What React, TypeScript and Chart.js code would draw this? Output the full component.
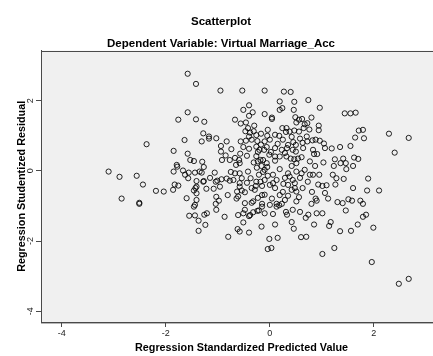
import { useEffect, useRef } from "react";
import { Chart, registerables } from "chart.js";

Chart.register(...registerables);

const chartTitle = "Scatterplot";
const chartSubtitle = "Dependent Variable: Virtual Marriage_Acc";
const xAxisTitle = "Regression Standardized Predicted Value";
const yAxisTitle = "Regression Studentized Residual";
const xTicks = [-4, -2, 0, 2];
const yTicks = [-4, -2, 0, 2];

// [standardized predicted value, studentized residual]
const upperLeft: [number, number][] = [
  [-1.58, 2.77], [-1.42, 2.48], [-0.95, 2.29], [-0.53, 2.29], [-0.40, 1.87], [-0.51, 1.74], [-0.33, 1.67], [-0.40, 1.57],
  [-1.58, 1.67], [-1.76, 1.46], [-1.42, 1.47], [-1.26, 1.40], [-0.67, 1.46], [-0.56, 1.35], [-0.46, 1.38], [-0.30, 1.29],
  [-0.42, 1.22], [-0.47, 1.13], [-0.38, 1.09], [-0.31, 1.13], [-0.26, 1.02], [-0.17, 1.06], [-0.40, 0.98], [-1.28, 1.07],
  [-1.17, 0.98], [-1.17, 0.92], [-1.03, 0.93], [-1.64, 0.88], [-1.31, 0.84], [-0.83, 0.84], [-0.56, 0.84], [-0.46, 0.86],
  [-0.24, 0.85], [-0.17, 0.75], [-2.37, 0.76], [-1.85, 0.57], [-1.58, 0.49], [-0.94, 0.71], [-0.74, 0.62], [-0.94, 0.55],
  [-0.85, 0.44], [-0.51, 0.68], [-0.40, 0.63], [-0.26, 0.69], [-0.20, 0.60], [-0.57, 0.49], [-0.26, 0.42], [-1.53, 0.31],
  [-1.46, 0.28], [-1.30, 0.26], [-0.92, 0.31], [-0.59, 0.31], [-0.18, 0.31], [-0.31, 0.24], [-1.79, 0.17], [-0.35, 0.89],
  [-0.23, 0.54], [-0.44, 0.43], [-0.67, 0.37], [-0.77, 0.31],
];

const upperRight: [number, number][] = [
  [-0.10, 2.29], [0.27, 2.26], [0.40, 2.25], [0.19, 1.98], [0.47, 1.97], [0.74, 2.02], [0.24, 1.79], [0.19, 1.74],
  [0.46, 1.74], [0.96, 1.80], [-0.10, 1.62], [0.04, 1.52], [0.04, 1.48], [0.49, 1.53], [0.62, 1.48], [0.80, 1.52],
  [0.51, 1.38], [0.56, 1.46], [0.67, 1.33], [0.72, 1.36], [1.44, 1.64], [1.55, 1.64], [1.65, 1.66], [0.24, 1.22],
  [0.32, 1.22], [0.31, 1.11], [0.38, 1.12], [0.47, 1.15], [0.56, 1.12], [0.65, 1.22], [0.76, 1.18], [0.94, 1.29],
  [0.94, 1.16], [1.71, 1.15], [1.79, 1.17], [2.29, 1.06], [-0.05, 1.00], [0.10, 1.03], [0.18, 1.00], [0.00, 0.89],
  [-0.10, 0.84], [1.64, 0.95], [1.81, 0.93], [0.45, 0.82], [0.58, 0.92], [0.71, 0.98], [0.63, 0.80], [0.72, 0.84],
  [0.82, 0.87], [0.88, 0.89], [0.96, 0.86], [1.04, 0.78], [1.06, 0.65], [1.19, 0.64], [1.35, 0.68], [1.55, 0.71],
  [-0.06, 0.68], [-0.11, 0.60], [0.10, 0.65], [0.23, 0.60], [0.33, 0.65], [0.44, 0.60], [0.50, 0.55], [0.64, 0.65],
  [0.83, 0.60], [0.85, 0.48], [0.91, 0.48], [1.25, 0.33], [1.41, 0.35], [1.62, 0.38], [1.70, 0.34], [2.40, 0.52],
  [-0.01, 0.46], [0.10, 0.41], [0.19, 0.41], [0.32, 0.41], [0.40, 0.35], [0.47, 0.33], [0.54, 0.35], [0.61, 0.39],
  [0.10, 0.29], [-0.13, 0.31], [0.51, 0.22], [0.77, 0.27], [-0.06, 0.22], [1.46, 0.22], [2.67, 0.94], [-0.04, 1.17],
  [0.25, 0.89], [0.35, 0.74], [0.02, 0.54], [0.15, 0.77], [0.29, 0.51], [0.42, 0.97], [0.50, 0.74],
];

const lowerLeft: [number, number][] = [
  [-3.10, -0.02], [-2.89, -0.17], [-2.56, -0.14], [-2.85, -0.79], [-2.51, -0.94], [-2.51, -0.91], [-2.44, -0.39], [-2.19, -0.57],
  [-2.04, -0.59], [-1.86, -0.54], [-1.83, -0.39], [-1.76, -0.42], [-1.60, -0.78], [-1.46, -0.56], [-1.41, -0.64], [-1.41, -0.83],
  [-1.44, -0.97], [-1.55, -1.28], [-1.44, -1.27], [-1.37, -1.42], [-1.37, -1.71], [-1.24, -1.54], [-1.26, -1.25], [-1.21, -1.21],
  [-1.22, -0.51], [-1.08, -0.51], [-1.03, -0.74], [-0.98, -0.85], [-1.04, -0.94], [-1.03, -1.11], [-0.87, -1.31], [-0.80, -1.88],
  [-0.81, -0.69], [-0.96, -0.45], [-1.41, -0.45], [-1.28, -0.31], [-1.78, 0.12], [-1.85, -0.02], [-1.67, 0.01], [-1.63, -0.11],
  [-1.56, -0.05], [-1.57, -0.21], [-1.27, 0.11], [-1.44, -0.05], [-1.35, -0.02], [-1.31, -0.05], [-1.27, -0.29], [-1.41, -0.29],
  [-1.43, -0.49], [-1.04, -0.31], [-1.06, -0.05], [-1.01, -0.28], [-0.93, -0.24], [-0.83, -0.22], [-0.77, -0.28], [-0.70, -0.26],
  [-0.65, 0.17], [-0.58, 0.22], [-0.67, -0.07], [-0.58, -0.07], [-0.54, -0.21], [-0.42, -0.02], [-0.37, -0.21], [-0.26, -0.31],
  [-0.27, -0.43], [-0.18, -0.31], [-0.23, 0.27], [-0.58, -0.45], [-0.63, -0.59], [-0.61, -0.73], [-0.54, -0.56], [-0.48, -0.61],
  [-0.58, -0.35], [-1.46, -1.02], [-0.61, -1.26], [-0.51, -1.21], [-0.48, -1.11], [-0.38, -1.26], [-0.32, -1.18], [-0.24, -1.14],
  [-0.15, -1.02], [-0.35, -0.91], [-0.48, -0.92], [-0.15, -0.69], [-0.16, -1.59], [-0.51, -1.47], [-0.62, -1.66], [-0.58, -1.73],
  [-0.40, -1.76], [-0.40, -1.29], [-0.21, -1.13], [-0.32, -0.87], [-0.64, -0.79], [-0.25, 0.09], [-0.21, -0.11], [-0.29, -0.54],
  [-0.23, -0.77], [-0.44, -0.34], [-0.35, -0.49], [-0.75, -0.03], [-1.15, -0.20],
];

const lowerRight: [number, number][] = [
  [2.10, -0.56], [1.87, -0.56], [1.60, -0.49], [1.46, -1.13], [1.51, -0.81], [1.58, -0.85], [1.74, -0.85], [1.79, -0.94],
  [1.85, -1.25], [1.79, -1.31], [1.69, -1.53], [1.99, -1.62], [1.56, -1.71], [1.35, -1.72], [1.17, -1.46], [1.14, -1.57],
  [1.24, -2.20], [1.01, -2.37], [1.96, -2.60], [2.48, -3.22], [2.67, -3.08], [1.30, -0.89], [1.40, -0.92], [1.12, -0.79],
  [0.85, -1.53], [0.70, -1.88], [0.60, -1.89], [0.46, -1.65], [0.42, -1.46], [0.69, -1.34], [0.74, -1.25], [0.58, -1.17],
  [0.44, -1.11], [0.31, -1.17], [0.33, -1.25], [0.06, -1.23], [-0.10, -1.21], [0.10, -1.53], [0.15, -1.91], [-0.01, -1.94],
  [-0.04, -2.23], [0.03, -2.20], [0.80, -0.94], [0.90, -0.85], [0.88, -0.79], [1.01, -1.21], [0.90, -1.21], [-0.15, -0.94],
  [0.19, -0.69], [0.04, -0.79], [0.13, -0.94], [0.18, -0.98], [0.23, -0.94], [0.51, -0.87], [0.56, -0.75], [-0.10, -0.68],
  [1.09, -0.41], [1.01, -0.43], [0.93, -0.39], [1.26, -0.39], [0.26, -0.37], [0.06, -0.35], [0.35, -0.40], [0.48, -0.35],
  [0.42, -0.54], [0.51, -0.59], [-0.16, 0.14], [-0.05, 0.11], [0.42, 0.14], [0.87, 0.14], [1.03, 0.24], [1.23, 0.14],
  [1.36, 0.22], [1.47, 0.05], [1.60, 0.14], [1.89, -0.22], [0.19, 0.05], [0.06, -0.11], [0.13, -0.26], [0.35, -0.07],
  [0.38, -0.16], [0.51, -0.02], [0.61, -0.07], [0.67, 0.03], [0.77, -0.11], [0.83, -0.11], [0.95, -0.11], [1.21, -0.11],
  [1.28, -0.21], [1.42, -0.23], [-0.10, -0.26], [0.10, -0.49], [0.48, -0.49], [0.13, -1.02], [-0.13, -0.03], [-0.04, -0.14],
  [0.00, -0.40], [0.25, -0.60], [0.29, -0.20], [0.35, -0.71], [0.44, -0.26], [0.58, -0.20], [0.63, -0.49], [0.73, -0.31],
  [0.81, -0.60], [0.00, -0.97], [0.29, -0.83], [-0.10, 0.03], [1.06, -0.63], [-0.15, -0.43],
];

const FONT = "Arial, 'Liberation Sans', Helvetica, sans-serif";
const FRAME = "#4a4a4a";

export default function App() {
  const canvasRef = useRef<HTMLCanvasElement>(null);

  useEffect(() => {
    const canvas = canvasRef.current;
    if (!canvas) return;

    const points = [...upperLeft, ...upperRight, ...lowerLeft, ...lowerRight].map(([x, y]) => ({ x, y }));

    const plotFrame = {
      id: "plotFrame",
      beforeDraw(chart: any) {
        const { ctx, chartArea: a } = chart;
        ctx.save();
        ctx.fillStyle = "#f0f0f0";
        ctx.fillRect(a.left, a.top, a.right - a.left, a.bottom - a.top);
        ctx.restore();
      },
      afterDraw(chart: any) {
        const { ctx, chartArea: a } = chart;
        ctx.save();
        ctx.strokeStyle = FRAME;
        ctx.lineWidth = 1;
        ctx.strokeRect(Math.round(a.left) + 0.5, Math.round(a.top) + 0.5, a.right - a.left, a.bottom - a.top);
        ctx.restore();
      },
    };

    const chart = new Chart(canvas, {
      type: "scatter",
      data: {
        datasets: [
          {
            data: points,
            pointStyle: "circle",
            pointRadius: 2.6,
            pointBorderWidth: 1,
            pointBorderColor: "rgba(0,0,0,0.85)",
            pointBackgroundColor: "rgba(0,0,0,0)",
          },
        ],
      },
      options: {
        animation: false,
        responsive: false,
        devicePixelRatio: 1,
        layout: { padding: { left: 0, right: 10, top: 0, bottom: 0 } },
        plugins: {
          legend: { display: false },
          tooltip: { enabled: false },
          title: {
            display: true,
            text: chartTitle,
            color: "#000",
            font: { family: FONT, size: 11.5, weight: "bold" },
            padding: { top: 15, bottom: 8 },
          },
          subtitle: {
            display: true,
            text: chartSubtitle,
            color: "#000",
            font: { family: FONT, size: 11.5, weight: "bold" },
            padding: { top: 0, bottom: 0 },
          },
        },
        scales: {
          x: {
            type: "linear",
            position: "bottom",
            min: -4.4,
            max: 3.31,
            afterBuildTicks: (s: any) => {
              s.ticks = xTicks.map((v) => ({ value: v }));
            },
            afterFit: (s: any) => {
              s.height = 34;
            },
            ticks: {
              color: "#222",
              font: { family: FONT, size: 9 },
              padding: 1,
              maxRotation: 0,
              minRotation: 0,
              includeBounds: false,
            },
            grid: { drawOnChartArea: false, drawTicks: true, tickLength: 5, color: FRAME, lineWidth: 1 },
            border: { display: true, color: FRAME, width: 1 },
            title: {
              display: true,
              text: xAxisTitle,
              color: "#000",
              font: { family: FONT, size: 10.8, weight: "bold" },
              padding: { top: 0, bottom: 1 },
            },
          },
          y: {
            type: "linear",
            min: -4.31,
            max: 3.43,
            afterBuildTicks: (s: any) => {
              s.ticks = yTicks.map((v) => ({ value: v }));
            },
            afterFit: (s: any) => {
              s.width = 41;
            },
            ticks: {
              color: "#222",
              font: { family: FONT, size: 9 },
              padding: 1,
              minRotation: 90,
              maxRotation: 90,
              crossAlign: "center",
              includeBounds: false,
            },
            grid: { drawOnChartArea: false, drawTicks: true, tickLength: 5, color: FRAME, lineWidth: 1 },
            border: { display: true, color: FRAME, width: 1 },
            title: {
              display: true,
              text: yAxisTitle,
              color: "#000",
              font: { family: FONT, size: 10.8, weight: "bold" },
              padding: { top: 16, bottom: 0 },
            },
          },
        },
      },
      plugins: [plotFrame],
    } as any);

    return () => chart.destroy();
  }, []);

  return (
    <div
      style={{
        position: "fixed",
        left: 0,
        top: 0,
        width: 433,
        height: 356,
        overflow: "hidden",
        background: "#fff",
      }}
    >
      <canvas ref={canvasRef} width={452} height={356} style={{ display: "block", width: 452, height: 356 }} />
    </div>
  );
}
